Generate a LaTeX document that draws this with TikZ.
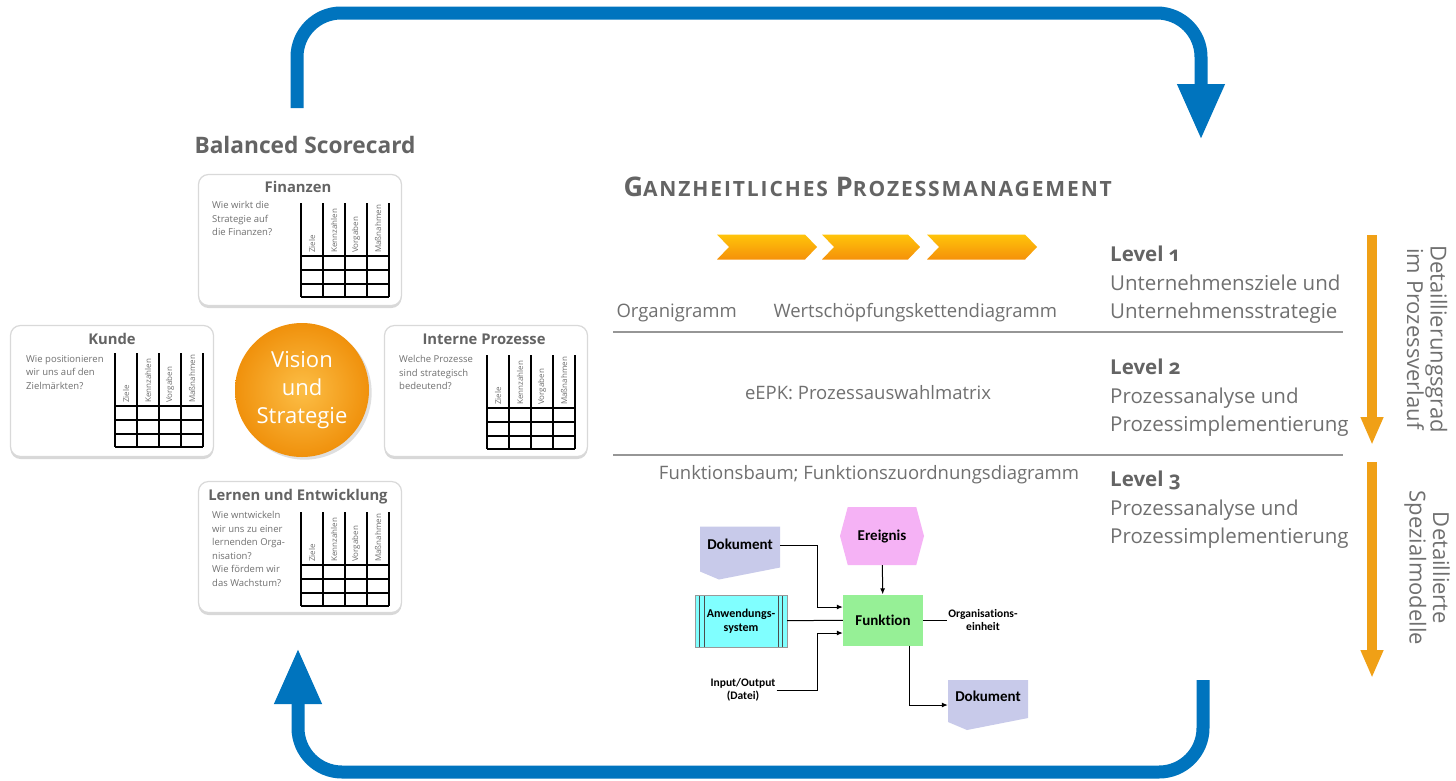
\documentclass[tikz,border=0pt]{standalone}
\usepackage{fontspec}
\setmainfont{Open Sans}
\newfontfamily\EpcFont[Ligatures=NoCommon]{Carlito}
\usepackage{xcolor}
\definecolor{ColBlue}{RGB}{0,116,190}
\definecolor{ColGrey}{RGB}{100,100,100}
\definecolor{ColText}{RGB}{112,112,112}
\definecolor{ColRule}{RGB}{150,150,150}
\definecolor{ColOrange}{RGB}{240,145,12}
\definecolor{ColOrangeLight}{RGB}{252,190,70}
\definecolor{ColChevTop}{RGB}{255,196,10}
\definecolor{ColChevBot}{RGB}{245,145,10}
\definecolor{ColLevel}{RGB}{240,160,22}
\definecolor{ColDoc}{RGB}{200,202,234}
\definecolor{ColEvent}{RGB}{245,178,245}
\definecolor{ColFunc}{RGB}{150,240,150}
\definecolor{ColSys}{RGB}{128,255,255}
\usepackage{tikz}
\usetikzlibrary{shadows}
\usetikzlibrary{shapes.symbols}
\usetikzlibrary{arrows.meta}
\newcommand{\FakeSC}[2]{{\fontsize{27}{27}\selectfont#1}{\fontsize{21}{21}\selectfont#2}}
\newcommand{\LevelNo}[1]{\textcolor{ColGrey}{\textbf{Level {\addfontfeatures{Numbers=OldStyle}#1}}}}
\tikzstyle{Loop}=[draw=ColBlue,line width=13pt,rounded corners=44pt,
-{Triangle[width=44pt,length=56pt]}]
\tikzstyle{LevelArrow}=[draw=ColLevel,line width=10pt,-{Triangle[width=21pt,length=28pt]}]
\tikzstyle{Heading}=[font=\bfseries\fontsize{22.7}{24}\selectfont,text=ColGrey]
\tikzstyle{Card}=[draw=black!15,fill=white,line width=1.2pt,rounded corners=10pt,
minimum width=203pt,minimum height=131pt,
drop shadow={opacity=0.3,shadow xshift=0pt,shadow yshift=-2.5pt}]
\tikzstyle{CardTitle}=[font=\bfseries\fontsize{14.8}{16}\selectfont,text=ColGrey]
\tikzstyle{CardText}=[font=\fontsize{9.5}{13.6}\selectfont,text=ColText,align=left,
anchor=north west,inner sep=0pt]
\tikzstyle{TableLine}=[draw=black,line width=1.1pt]
\tikzstyle{TableHead}=[rotate=90,anchor=west,inner sep=1pt,
font=\fontsize{8}{8}\selectfont,text=ColText]
\tikzstyle{Vision}=[circle,minimum size=134pt,inner color=ColOrangeLight,outer color=ColOrange,
text=white,align=center,font=\fontsize{22}{28}\selectfont,drop shadow={opacity=0.25}]
\tikzstyle{Chevron}=[minimum height=25pt,inner sep=0pt,
path picture={\shade[top color=ColChevTop,bottom color=ColChevBot]
 (path picture bounding box.north west)
 -- ([xshift=-12pt]path picture bounding box.north east)
 -- (path picture bounding box.east)
 -- ([xshift=-12pt]path picture bounding box.south east)
 -- (path picture bounding box.south west)
 -- ([xshift=12pt]path picture bounding box.west) -- cycle;}]
\tikzstyle{Body}=[font=\fontsize{18.5}{28}\selectfont,text=ColText]
\tikzstyle{LevelText}=[font=\fontsize{20.5}{28.5}\selectfont,text=ColText,align=left,
anchor=west,inner sep=0pt]
\tikzstyle{Rule}=[draw=ColRule,line width=1.6pt]
\tikzstyle{SideText}=[font=\fontsize{22}{23.5}\selectfont,text=ColText,rotate=-90,align=center]
\tikzstyle{EpcText}=[font=\EpcFont\bfseries\fontsize{15}{16}\selectfont,text=black]
\tikzstyle{EpcSmall}=[font=\EpcFont\bfseries\fontsize{11.5}{13.5}\selectfont,text=black,
align=center,inner sep=1pt]
\tikzstyle{Doc}=[EpcText,minimum width=80pt,minimum height=53pt,inner sep=0pt,
text height=10pt,text depth=17pt,
path picture={\fill[ColDoc] (path picture bounding box.north west)
 -- (path picture bounding box.north east)
 -- ([yshift=12pt]path picture bounding box.south east)
 -- ([xshift=19pt]path picture bounding box.south west)
 -- ([yshift=8pt]path picture bounding box.south west) -- cycle;}]
\tikzstyle{Event}=[EpcText,shape=signal,signal to=east and west,signal pointer angle=150,
fill=ColEvent,minimum width=84pt,minimum height=58pt,inner sep=0pt]
\tikzstyle{Func}=[EpcText,fill=ColFunc,minimum width=80pt,minimum height=51pt]
\tikzstyle{AppSys}=[EpcSmall,font=\EpcFont\bfseries\fontsize{12}{14.5}\selectfont,
fill=ColSys,draw=black!40,minimum width=92pt,minimum height=52pt,
path picture={\foreach \dx in {4.5,9}{
 \draw[black!70,line width=.8pt] ([xshift=\dx pt]path picture bounding box.north west)
 -- ([xshift=\dx pt]path picture bounding box.south west);
 \draw[black!70,line width=.8pt] ([xshift=-\dx pt]path picture bounding box.north east)
 -- ([xshift=-\dx pt]path picture bounding box.south east);}}]
\tikzstyle{EpcLine}=[draw=black,line width=1pt]
\tikzstyle{EpcArrow}=[EpcLine,-{Latex[length=6pt,width=5pt]}]
\newcommand{\BscTable}[3]{%
  \foreach \cx in {0,...,4}
    \draw[TableLine] (#2+22*\cx,#3) -- (#2+22*\cx,#3+94);
  \foreach \ry in {53,67,81,94}
    \draw[TableLine] (#2,#3+\ry) -- (#2+88,#3+\ry);
  \foreach \hd [count=\nn] in {Ziele,Kennzahlen,Vorgaben,Maßnahmen}
    \node[TableHead] (#1\nn) at (#2-11+22*\nn,#3+51) {\hd};}

\begin{document}
\begin{tikzpicture}[x=1pt,y=-1pt]
    \path[use as bounding box,fill=white] (0,0) rectangle (1456,780);
    \coordinate (topA) at (297,108);
    \coordinate (topB) at (1201,140);
    \coordinate (botA) at (1203,680);
    \coordinate (botB) at (298,648);
    \draw[Loop] (topA) -- ++(0,-95) -| (topB);
    \draw[Loop] (botA) -- ++(0,92) -| (botB);
    \node[Heading] (bsc) at (305,145) {Balanced Scorecard};
    \node[Card] (fin) at (300,240) {};
    \node[Card] (kun) at (112,391) {};
    \node[Card] (int) at (486,391) {};
    \node[Card] (ler) at (300,547) {};
    \node[CardTitle] (fint) at (298,187) {Finanzen};
    \node[CardTitle] (kunt) at (112,339) {Kunde};
    \node[CardTitle] (intt) at (484,339) {Interne Prozesse};
    \node[CardTitle] (lert) at (298,497) {Lernen und Entwicklung};
    \node[CardText] (finq) at (212,201) {Wie wirkt die\\Strategie auf\\die Finanzen?};
    \node[CardText] (kunq) at (26,355) {Wie positionieren\\wir uns auf den\\Zielmärkten?};
    \node[CardText] (intq) at (399,355) {Welche Prozesse\\sind strategisch\\bedeutend?};
    \node[CardText] (lerq) at (212,511) {Wie wntwickeln\\wir uns zu einer\\lernenden Orga-\\nisation?\\Wie fördem wir\\das Wachstum?};
    \BscTable{finh}{301}{203}
    \BscTable{kunh}{115}{353}
    \BscTable{inth}{487}{355}
    \BscTable{lerh}{301}{512}
    \node[Vision] (vis) at (302,390) {Vision\\und\\Strategie};
    \node[Heading,anchor=west] (gpm) at (620,187) {\addfontfeatures{LetterSpace=9}\FakeSC{G}{ANZHEITLICHES} \FakeSC{P}{ROZESSMANAGEMENT}};
    \node[Chevron,minimum width=100pt] (ch1) at (767,247) {};
    \node[Chevron,minimum width=98pt] (ch2) at (871,247) {};
    \node[Chevron,minimum width=110pt] (ch3) at (982,247) {};
    \node[Body,anchor=west] (orga) at (613,313) {Organigramm};
    \node[Body,anchor=west] (wsk) at (770,313) {Wertschöpfungskettendiagramm};
    \node[Body] (epk) at (868,393) {eEPK: Prozessauswahlmatrix};
    \node[Body] (fbaum) at (869,475) {Funktionsbaum; Funktionszuordnungsdiagramm};
    \coordinate (r1a) at (613,332);
    \coordinate (r1b) at (1343,332);
    \coordinate (r2a) at (613,455);
    \coordinate (r2b) at (1343,455);
    \draw[Rule] (r1a) -- (r1b);
    \draw[Rule] (r2a) -- (r2b);
    \node[LevelText] (lv1) at (1110,285) {\LevelNo{1}\\Unternehmensziele und\\Unternehmensstrategie};
    \node[LevelText] (lv2) at (1110,398) {\LevelNo{2}\\Prozessanalyse und\\Prozessimplementierung};
    \node[LevelText] (lv3) at (1110,510) {\LevelNo{3}\\Prozessanalyse und\\Prozessimplementierung};
    \coordinate (la1s) at (1372,235);
    \coordinate (la1e) at (1372,445);
    \coordinate (la2s) at (1372,462);
    \coordinate (la2e) at (1372,678);
    \draw[LevelArrow] (la1s) -- (la1e);
    \draw[LevelArrow] (la2s) -- (la2e);
    \node[SideText] (side1) at (1427,339) {Detaillierungsgrad\\im Prozessverlauf};
    \node[SideText] (side2) at (1427,568) {Detaillierte\\Spezialmodelle};
    \node[Event] (evt) at (882,536) {Ereignis};
    \node[Func] (funk) at (883,620) {Funktion};
    \node[AppSys] (aws) at (741,621) {Anwendungs-\\system};
    \node[Doc] (doc1) at (740,553) {Dokument};
    \node[Doc,minimum height=50pt] (doc2) at (988,705) {Dokument};
    \node[EpcSmall] (io) at (743,690) {Input/Output\\(Datei)};
    \node[EpcSmall] (org) at (983,620) {Organisations-\\einheit};
    \coordinate (bendA) at (817,580);
    \coordinate (bendB) at (817,660);
    \draw[EpcArrow] (evt) -- (funk);
    \draw[EpcArrow] ([yshift=8pt]doc1.east) -| (bendA) |- ([yshift=13pt]funk.west);
    \draw[EpcLine] (aws) -- (funk);
    \draw[EpcArrow] (io.east) -| (bendB) |- ([yshift=-13pt]funk.west);
    \draw[EpcLine] (funk) -- (org);
    \draw[EpcArrow] ([xshift=26pt]funk.south) |- (doc2.west);
\end{tikzpicture}
\end{document}
